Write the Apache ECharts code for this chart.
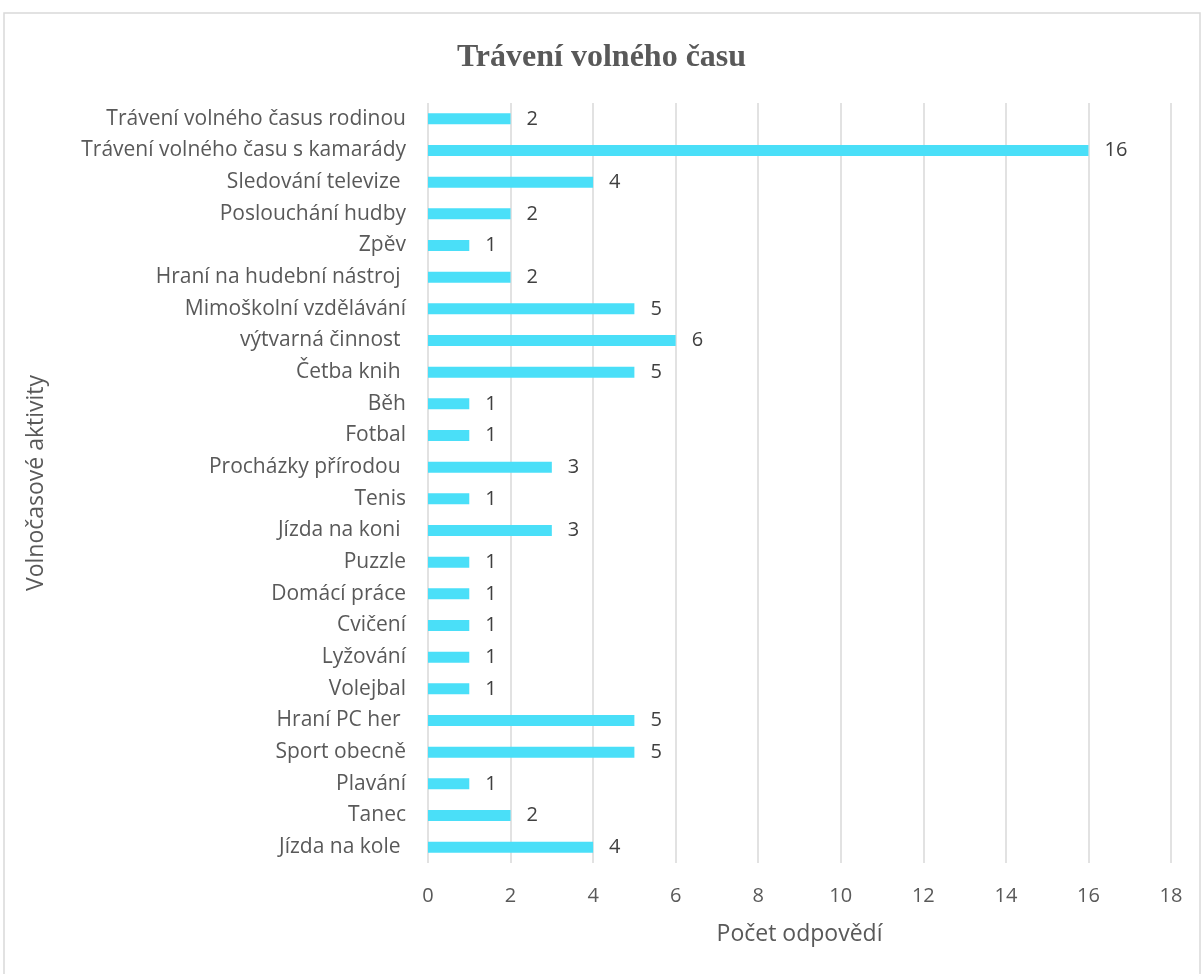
<!DOCTYPE html>
<html><head><meta charset="utf-8">
<script src="https://cdn.jsdelivr.net/npm/echarts@6/dist/echarts.min.js"></script>
<style>html,body{margin:0;padding:0;background:#fff}#c{width:1203px;height:974px}</style>
</head><body><div id="c"></div>
<script>
const categories = ["Trávení volného časus rodinou","Trávení volného času s kamarády","Sledování televize ","Poslouchání hudby","Zpěv","Hraní na hudební nástroj ","Mimoškolní vzdělávání","výtvarná činnost ","Četba knih ","Běh","Fotbal","Procházky přírodou ","Tenis","Jízda na koni ","Puzzle","Domácí práce","Cvičení","Lyžování","Volejbal","Hraní PC her ","Sport obecně","Plavání","Tanec","Jízda na kole "];
const values = [2,16,4,2,1,2,5,6,5,1,1,3,1,3,1,1,1,1,1,5,5,1,2,4];
const xTicks = {min:0, max:18, interval:2};
const titleText = "Trávení volného času";
const xName = "Počet odpovědí";
const yName = "Volnočasové aktivity";

const chart = echarts.init(document.getElementById('c'));
const font = 'Open Sans';
chart.setOption({
  animation:false,
  graphic:[{type:'rect',shape:{x:4,y:13,width:1196,height:980},style:{fill:'none',stroke:'#d9d9d9',lineWidth:1.5},silent:true}],
  title:{text:titleText,left:'center',top:37,textStyle:{fontFamily:'Liberation Serif',fontWeight:'bold',fontSize:32,color:'#595959'}},
  grid:{left:428,right:32,top:103,bottom:111,containLabel:false},
  xAxis:{type:'value',min:xTicks.min,max:xTicks.max,interval:xTicks.interval,
    name:xName,nameLocation:'middle',nameGap:60,nameTextStyle:{fontFamily:font,fontSize:23,color:'#595959'},
    axisLine:{show:false},axisTick:{show:false},
    axisLabel:{fontFamily:font,fontSize:20,color:'#595959',margin:23},
    splitLine:{lineStyle:{color:'#d9d9d9',width:1.5}}},
  yAxis:{type:'category',data:categories,inverse:true,
    name:yName,nameLocation:'middle',nameGap:380,nameRotate:90,nameTextStyle:{fontFamily:font,fontSize:23,color:'#595959'},
    axisLine:{show:false},axisTick:{show:false},
    axisLabel:{fontFamily:font,fontSize:21,color:'#595959',margin:22}},
  series:[{type:'bar',data:values,barWidth:11,itemStyle:{color:'#4adff8'},
    label:{show:true,position:'right',distance:16,fontFamily:font,fontSize:20,color:'#404040'}}]
});
</script></body></html>
